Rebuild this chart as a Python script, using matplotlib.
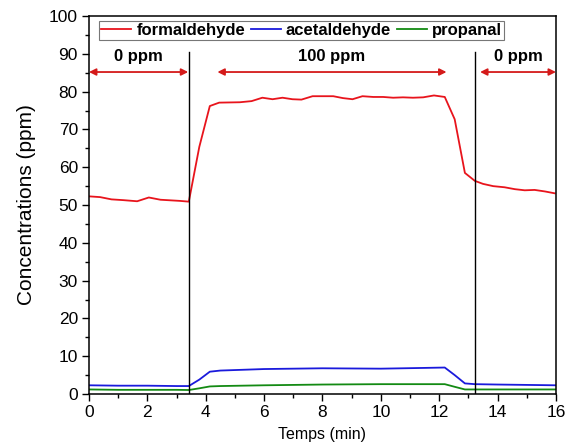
import numpy as np
import matplotlib.pyplot as plt
from matplotlib.ticker import MultipleLocator

plt.rcParams['font.family'] = ['Liberation Sans', 'DejaVu Sans']

# formaldehyde (red)
t_form = [0.0, 0.38, 0.77, 1.17, 1.65, 2.05, 2.45, 3.11, 3.42, 3.78, 4.14, 4.46,
          5.17, 5.57, 5.94, 6.29, 6.63, 6.97, 7.28, 7.66, 8.02, 8.37, 8.70, 9.03,
          9.37, 9.74, 10.08, 10.42, 10.76, 11.10, 11.45, 11.82, 12.19, 12.53,
          12.88, 13.22, 13.50, 13.85, 14.24, 14.59, 14.93, 15.27, 15.62, 15.96]
formaldehyde = [52.3, 52.1, 51.5, 51.3, 51.0, 52.0, 51.4, 51.1, 50.9, 65.4, 76.2, 77.1,
                77.2, 77.5, 78.4, 78.0, 78.4, 78.0, 77.9, 78.8, 78.8, 78.8, 78.3, 78.0,
                78.8, 78.6, 78.6, 78.4, 78.5, 78.4, 78.5, 79.0, 78.6, 72.7,
                58.5, 56.4, 55.6, 55.0, 54.7, 54.2, 53.9, 54.0, 53.6, 53.1]

# acetaldehyde (blue) and propanal (green)
t_other = [0.0, 1.0, 2.0, 3.0, 3.42, 3.78, 4.14, 4.5, 6.0, 8.0, 10.0, 11.5, 12.19,
           12.53, 12.88, 13.22, 14.0, 15.0, 16.0]
acetaldehyde = [2.3, 2.2, 2.2, 2.1, 2.1, 3.8, 5.9, 6.2, 6.6, 6.8, 6.7, 6.9, 7.0,
                5.0, 2.8, 2.6, 2.5, 2.4, 2.3]
propanal = [1.2, 1.1, 1.1, 1.1, 1.05, 1.5, 2.0, 2.1, 2.3, 2.5, 2.6, 2.6, 2.6,
            1.9, 1.2, 1.2, 1.2, 1.2, 1.2]

switch_times = [3.42, 13.22]
arrow_spans = [(0.0, 3.4), (4.4, 12.25), (13.4, 16.0)]
arrow_labels = ['0 ppm', '100 ppm', '0 ppm']

fig = plt.figure(figsize=(5.65, 4.47), dpi=100)
ax = fig.add_axes([0.1575, 0.1186, 0.8265, 0.8454])

ax.plot(t_form, formaldehyde, color='#e8141c', lw=1.3, label='formaldehyde')
ax.plot(t_other, acetaldehyde, color='#1a1adc', lw=1.3, label='acetaldehyde')
ax.plot(t_other, propanal, color='#138a13', lw=1.3, label='propanal')

for t in switch_times:
    ax.plot([t, t], [0, 90.5], color='black', lw=1.0)

for (x0, x1), lab in zip(arrow_spans, arrow_labels):
    ax.annotate('', xy=(x0, 85.2), xytext=(x1, 85.2),
                arrowprops=dict(arrowstyle='<|-|>', color='#d41a1a', lw=1.3,
                                mutation_scale=10, shrinkA=0, shrinkB=0))
    ax.text((x0 + x1) / 2, 89.4, lab, ha='center', va='center',
            fontsize=12, fontweight='bold')

ax.set_xlim(0, 16)
ax.set_ylim(0, 100)
ax.xaxis.set_major_locator(MultipleLocator(2))
ax.xaxis.set_minor_locator(MultipleLocator(1))
ax.yaxis.set_major_locator(MultipleLocator(10))
ax.yaxis.set_minor_locator(MultipleLocator(5))
ax.tick_params(which='both', direction='out', top=False, right=False, labelsize=12.5)
ax.tick_params(which='major', length=5, width=1, pad=3)
ax.tick_params(which='minor', length=3, width=1)
for s in ax.spines.values():
    s.set_linewidth(1.1)

ax.set_xlabel('Temps (min)', fontsize=11.5, labelpad=5)
ax.set_ylabel('Concentrations (ppm)', fontsize=15, labelpad=9)

leg = ax.legend(loc='upper left', bbox_to_anchor=(0.015, 0.995), ncol=3,
                prop={'weight': 'bold', 'size': 12}, frameon=True, fancybox=False,
                handlelength=1.8, handletextpad=0.3, columnspacing=0.35,
                borderpad=0.12, borderaxespad=0.2)
leg.get_frame().set_edgecolor('#555555')
leg.get_frame().set_linewidth(0.8)

fig.savefig('out.png', dpi=100)
